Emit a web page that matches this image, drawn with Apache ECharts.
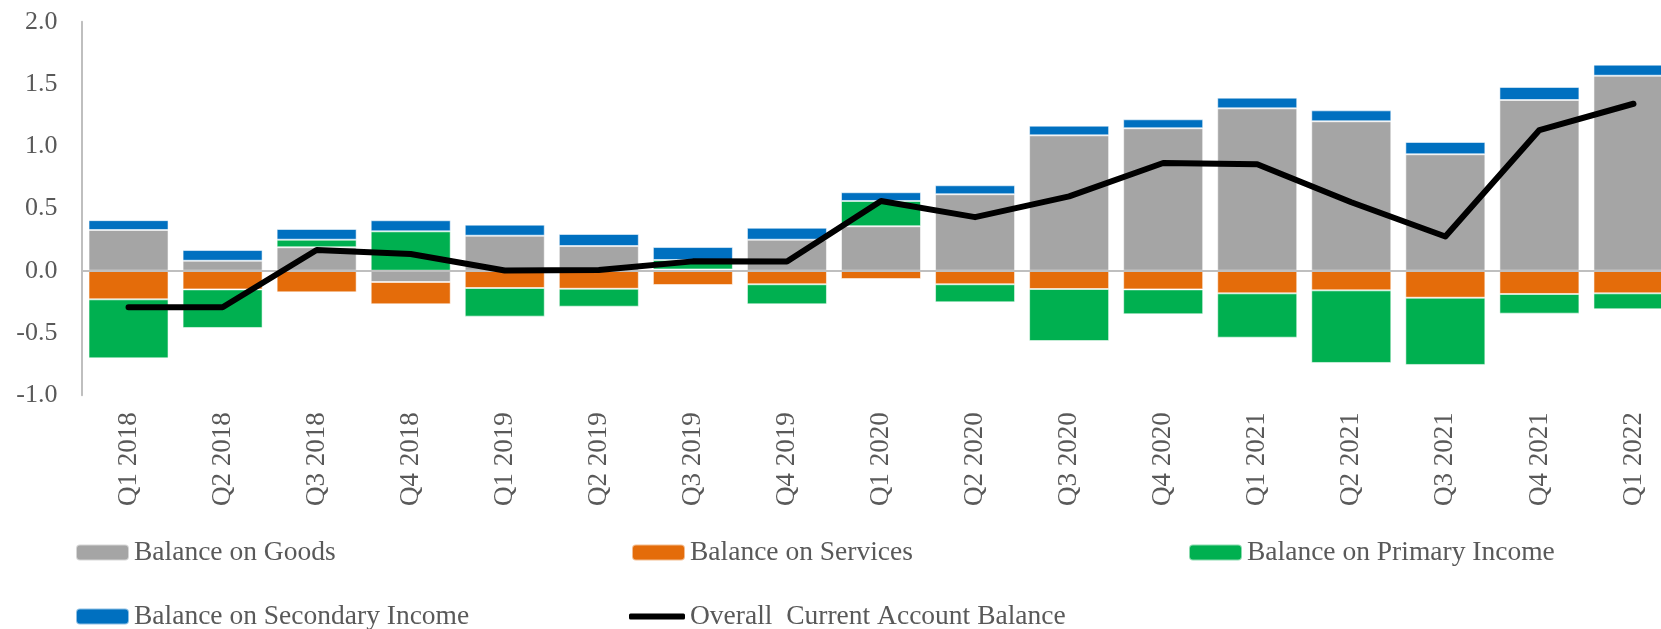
<!DOCTYPE html>
<html>
<head>
<meta charset="utf-8">
<script src="https://cdn.jsdelivr.net/npm/echarts@6/dist/echarts.min.js"></script>
<style>
  html, body { margin: 0; padding: 0; background: #ffffff; }
  #chart { width: 1661px; height: 629px; }
</style>
</head>
<body>
<div id="chart"></div>
<script>
const categories = ['Q1 2018','Q2 2018','Q3 2018','Q4 2018','Q1 2019','Q2 2019','Q3 2019','Q4 2019','Q1 2020','Q2 2020','Q3 2020','Q4 2020','Q1 2021','Q2 2021','Q3 2021','Q4 2021','Q1 2022'];
const goods     = [0.327, 0.080, 0.188, -0.091, 0.281, 0.198, 0.010, 0.249, 0.357, 0.614, 1.087, 1.144, 1.304, 1.200, 0.935, 1.371, 1.566];
const services  = [-0.230, -0.150, -0.174, -0.179, -0.139, -0.145, -0.115, -0.109, -0.067, -0.109, -0.147, -0.150, -0.182, -0.158, -0.217, -0.187, -0.182];
const primary   = [-0.474, -0.310, 0.061, 0.316, -0.230, -0.144, 0.076, -0.161, 0.203, -0.145, -0.418, -0.200, -0.356, -0.583, -0.540, -0.158, -0.128];
const secondary = [0.079, 0.086, 0.086, 0.089, 0.089, 0.097, 0.104, 0.096, 0.070, 0.072, 0.078, 0.072, 0.086, 0.088, 0.099, 0.105, 0.089];
const overall   = [-0.294, -0.294, 0.166, 0.134, 0.001, 0.005, 0.075, 0.074, 0.560, 0.430, 0.597, 0.865, 0.855, 0.550, 0.275, 1.130, 1.341];
const yTicks = { min: -1, max: 2, step: 0.5 };

const FONT = 'Liberation Serif';
const TXT = '#595959';
const names = ['Balance on Goods', 'Balance on Services', 'Balance on Primary Income', 'Balance on Secondary Income', 'Overall  Current Account Balance'];
const colors = ['#A5A5A5', '#E46C0A', '#00B050', '#0070C0', '#000000'];

function barSeries(name, data, color) {
  return {
    name: name, type: 'bar', stack: 'ca', data: data, barWidth: 80,
    itemStyle: { color: color, borderColor: 'rgba(255,255,255,0.55)', borderWidth: 1 },
    z: 2
  };
}

function legendAt(name, left, top, isLine) {
  return {
    data: [isLine ? { name: name, icon: 'roundRect' } : name],
    left: left, top: top,
    itemWidth: isLine ? 56 : 53, itemHeight: isLine ? 6 : 16,
    selectedMode: false,
    padding: 0,
    textStyle: { fontFamily: FONT, fontSize: 27.5, color: TXT, lineHeight: 28 }
  };
}

const chart = echarts.init(document.getElementById('chart'), null, { renderer: 'canvas' });
chart.setOption({
  animation: false,
  backgroundColor: '#ffffff',
  grid: { left: 81.5, top: 21.7, width: 1599, height: 373.5, containLabel: false, outerBoundsMode: 'none' },
  legend: [
    legendAt(names[0], 75, 538.5, false),
    legendAt(names[1], 631, 538.5, false),
    legendAt(names[2], 1188, 538.5, false),
    legendAt(names[3], 75, 602.5, false),
    legendAt(names[4], 629, 602.5, true)
  ],
  xAxis: {
    type: 'category', data: categories,
    axisLine: { show: false, onZero: false },
    axisTick: { show: false },
    axisLabel: { rotate: 90, margin: 17, fontFamily: FONT, fontSize: 27, color: TXT, interval: 0 },
    splitLine: { show: false }
  },
  yAxis: {
    type: 'value', min: yTicks.min, max: yTicks.max, interval: yTicks.step,
    axisLine: { show: true, lineStyle: { color: '#BFBFBF', width: 2 } },
    axisTick: { show: false },
    splitLine: { show: false },
    axisLabel: { margin: 24, fontFamily: FONT, fontSize: 26, color: TXT, formatter: v => v.toFixed(1) }
  },
  series: [
    barSeries(names[0], goods, colors[0]),
    barSeries(names[1], services, colors[1]),
    barSeries(names[2], primary, colors[2]),
    barSeries(names[3], secondary, colors[3]),
    {
      name: names[4], type: 'line', data: overall,
      symbol: 'none', z: 5,
      itemStyle: { color: '#000000' },
      lineStyle: { color: '#000000', width: 6, cap: 'round', join: 'round' },
      markLine: {
        silent: true, symbol: ['none', 'none'], label: { show: false },
        lineStyle: { color: '#BFBFBF', width: 2, type: 'solid' },
        data: [{ yAxis: 0 }], z: 4
      }
    }
  ]
});
</script>
</body>
</html>
